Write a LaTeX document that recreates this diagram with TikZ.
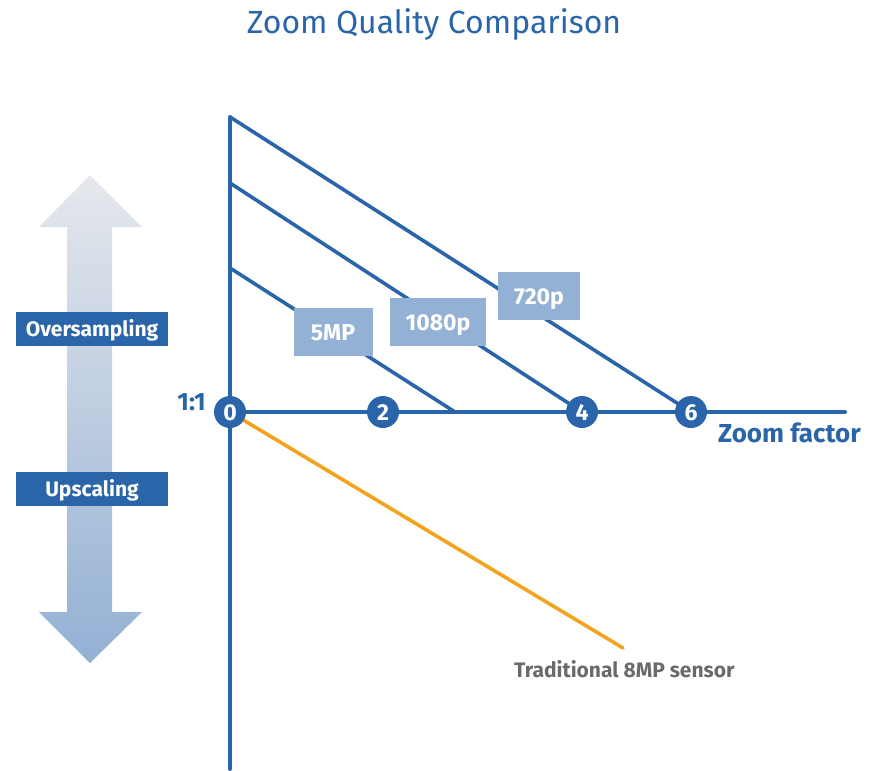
\documentclass[tikz,border=0pt]{standalone}
\usepackage{fontspec}
\setmainfont{Fira Sans}
\definecolor{nblue}{HTML}{2A65A9}
\definecolor{lblue}{HTML}{93B1D5}
\definecolor{ngray}{HTML}{6A6A6A}
\definecolor{norange}{HTML}{F2A320}
\definecolor{agray}{HTML}{E6E8EC}
\definecolor{ablue}{HTML}{93B0D4}
\tikzset{
  axis line/.style={draw=nblue, line width=4pt, line cap=round},
  res line/.style={draw=nblue, line width=3.6pt},
  tick/.style={circle, fill=nblue, text=white, minimum size=32pt, inner sep=0pt, font=\bfseries\fontsize{23}{23}\selectfont, text height=16pt, text depth=0pt},
  resbox/.style={fill=lblue, text=white, inner sep=0pt, font=\bfseries\fontsize{23}{23}\selectfont, text height=16pt, text depth=0pt, minimum height=48pt},
  sidebox/.style={fill=nblue, text=white, inner sep=0pt, minimum width=152pt, minimum height=34pt, font=\bfseries\fontsize{21}{21}\selectfont, text height=15pt, text depth=0pt},
}
\begin{document}
\begin{tikzpicture}[x=1pt,y=-1pt]
\useasboundingbox (0,0) rectangle (871,771);
% title
\node[anchor=base, text=nblue, font=\fontsize{32}{32}\selectfont, inner sep=0pt] (title) at (434,34) {Zoom Quality Comparison};
% gradient double arrow
\shade[top color=agray, bottom color=ablue]
  (90,175) -- (142,227) -- (112,227) -- (112,612) -- (142,612) -- (90,663)
  -- (39,612) -- (67,612) -- (67,227) -- (39,227) -- cycle;
\node[sidebox] (over) at (92,329) {Oversampling};
\node[sidebox] (up) at (92,489) {Upscaling};
% coordinates
\coordinate (vtop) at (230,117);
\coordinate (vbot) at (230,769);
\coordinate (hend) at (845,412);
\coordinate (s720) at (230,117);
\coordinate (s1080) at (230,183);
\coordinate (s5) at (230,268);
\coordinate (e5) at (455,412);
\coordinate (o0) at (230,412);
\coordinate (oend) at (623,648);
% axes
\draw[axis line] (vtop) -- (vbot);
\draw[axis line] (o0) -- (hend);
% resolution lines
\draw[res line, line join=round] (s720) -- (691,412);
\draw[res line] (s1080) -- (582,412);
\draw[res line] (s5) -- (e5);
% traditional sensor
\draw[draw=norange, line width=3.6pt, line cap=round] (o0) -- (oend);
% ticks
\node[tick] (c0) at (230,412) {0};
\node[tick] (c2) at (383,412) {2};
\node[tick] (c4) at (582,412) {4};
\node[tick] (c6) at (691,412) {6};
% labels
\node[resbox, minimum width=79pt] (l5) at (333,332) {5MP};
\node[resbox, minimum width=96pt] (l1080) at (438,322) {1080p};
\node[resbox, minimum width=82pt] (l720) at (539,296) {720p};
\node[anchor=base east, text=nblue, font=\bfseries\fontsize{25}{25}\selectfont, inner sep=0pt] (one) at (206,410) {1:1};
\node[anchor=base west, text=nblue, font=\bfseries\fontsize{26}{26}\selectfont, inner sep=0pt] (zf) at (718,442) {Zoom factor};
\node[anchor=base west, text=ngray, font=\bfseries\fontsize{21}{21}\selectfont, inner sep=0pt] (trad) at (514,677) {Traditional 8MP sensor};
\end{tikzpicture}
\end{document}
